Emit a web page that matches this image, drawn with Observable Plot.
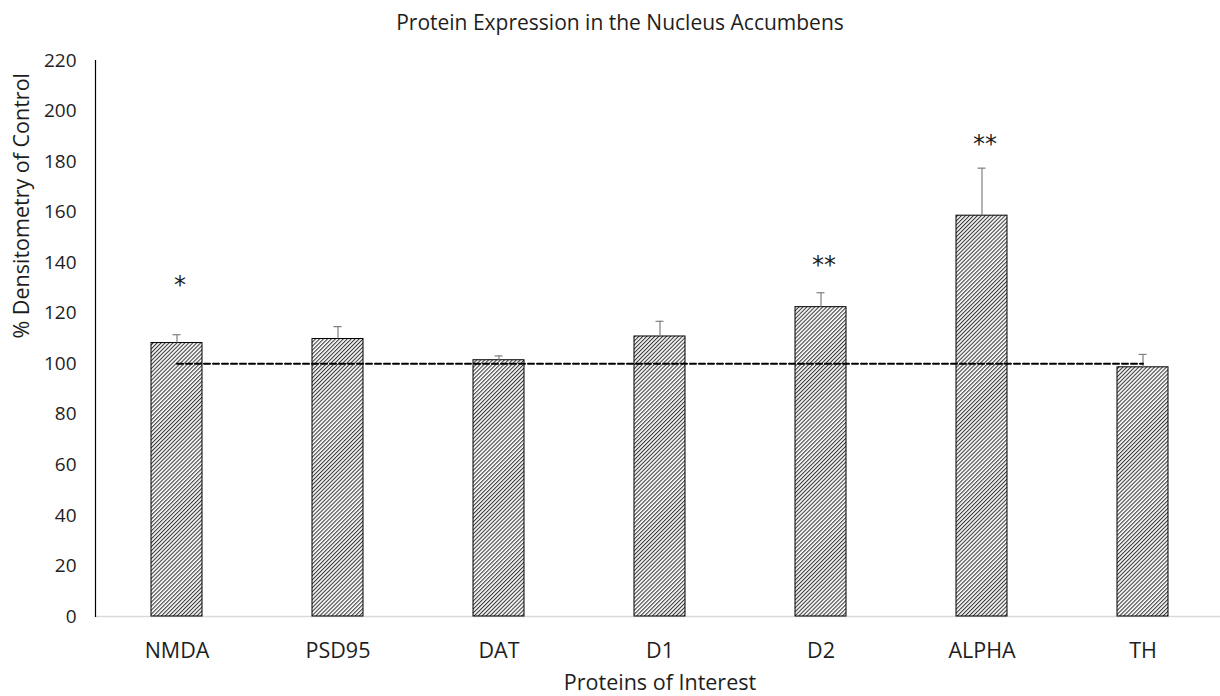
<!DOCTYPE html>
<html><head><meta charset="utf-8">
<script src="https://cdn.jsdelivr.net/npm/d3@7"></script>
<script src="https://cdn.jsdelivr.net/npm/@observablehq/plot@0.6"></script>
<style>
body{margin:0;background:#fff;font-family:"Open Sans",sans-serif;}
#title{box-sizing:border-box;width:1220px;height:40px;padding-top:9px;padding-left:20px;line-height:26px;text-align:center;font-size:21px;color:#1e1e1e;}
</style></head><body>
<div id="title">Protein Expression in the Nucleus Accumbens</div>
<div id="chart"></div>
<script>
const proteins = ["NMDA", "PSD95", "DAT", "D1", "D2", "ALPHA", "TH"];
const means = [108.2, 109.8, 101.4, 110.8, 122.4, 158.6, 98.6];
const errors = [3.3, 4.9, 1.7, 6.0, 5.7, 18.8, 5.1];
const significance = ["*", "", "", "", "**", "**", ""];
const significancePos = [131, null, null, null, 139, 187, null];
const yTicks = [0, 20, 40, 60, 80, 100, 120, 140, 160, 180, 200, 220];
const controlLevel = 100;

const data = proteins.map((p, i) => ({protein: p, mean: means[i], upper: means[i] + errors[i]}));
const stars = proteins.map((p, i) => ({protein: p, label: significance[i], y: significancePos[i]})).filter(d => d.label);
const control = proteins.map(p => ({protein: p, y: controlLevel}));

const plot = Plot.plot({
  width: 1220,
  height: 656,
  marginTop: 20,
  marginBottom: 80,
  marginLeft: 95,
  marginRight: -4,
  style: {fontFamily: "'Open Sans', sans-serif", fontSize: "19px", color: "#1e1e1e", background: "#fff"},
  x: {type: "band", domain: proteins, paddingInner: 0.685, paddingOuter: 0.3425, label: null},
  y: {domain: [0, 220], label: null},
  marks: [
    Plot.ruleY([0], {stroke: "#d9d9d9", strokeWidth: 1.3}),
    Plot.barY(data, {x: "protein", y: "mean", fill: "url(#hatch)", stroke: "#000", strokeWidth: 1}),
    Plot.ruleX(data, {x: "protein", y1: "mean", y2: "upper", stroke: "#7f7f7f", strokeWidth: 1.2}),
    Plot.tickY(data, {x: "protein", y: "upper", stroke: "#7f7f7f", strokeWidth: 1.2, insetLeft: 21.5, insetRight: 21.5}),
    Plot.lineY(control, {x: "protein", y: "y", stroke: "#000", strokeWidth: 2, strokeDasharray: "6,3"}),
    Plot.text(stars, {x: "protein", y: "y", text: "label", fontSize: 24, dx: 3, fill: "#1e1e1e", fontFamily: "'DejaVu Sans', sans-serif", style: "letter-spacing:6px"}),
    Plot.frame({anchor: "left", stroke: "#000", strokeWidth: 1.2}),
    Plot.axisY({ticks: yTicks, tickSize: 0, tickPadding: 19, label: null, fontSize: 19}),
    Plot.axisX({tickSize: 0, tickPadding: 26, label: null, fontSize: 21.5}),
    Plot.text(["% Densitometry of Control"], {frameAnchor: "left", dx: -73, rotate: -90, fontSize: 21.5, fill: "#1e1e1e"}),
    Plot.text(["Proteins of Interest"], {frameAnchor: "bottom", dy: 73, fontSize: 21.5, fill: "#1e1e1e"})
  ]
});
const svg = d3.select(plot);
const defs = svg.insert("defs", ":first-child");
const pat = defs.append("pattern").attr("id", "hatch").attr("patternUnits", "userSpaceOnUse")
  .attr("width", 2.8).attr("height", 2.8).attr("patternTransform", "rotate(45)");
pat.append("rect").attr("width", 2.8).attr("height", 2.8).attr("fill", "#fff");
pat.append("line").attr("x1", 0.6).attr("y1", 0).attr("x2", 0.6).attr("y2", 2.8).attr("stroke", "#000").attr("stroke-width", 0.85);
document.getElementById("chart").appendChild(plot);
</script>
</body></html>
